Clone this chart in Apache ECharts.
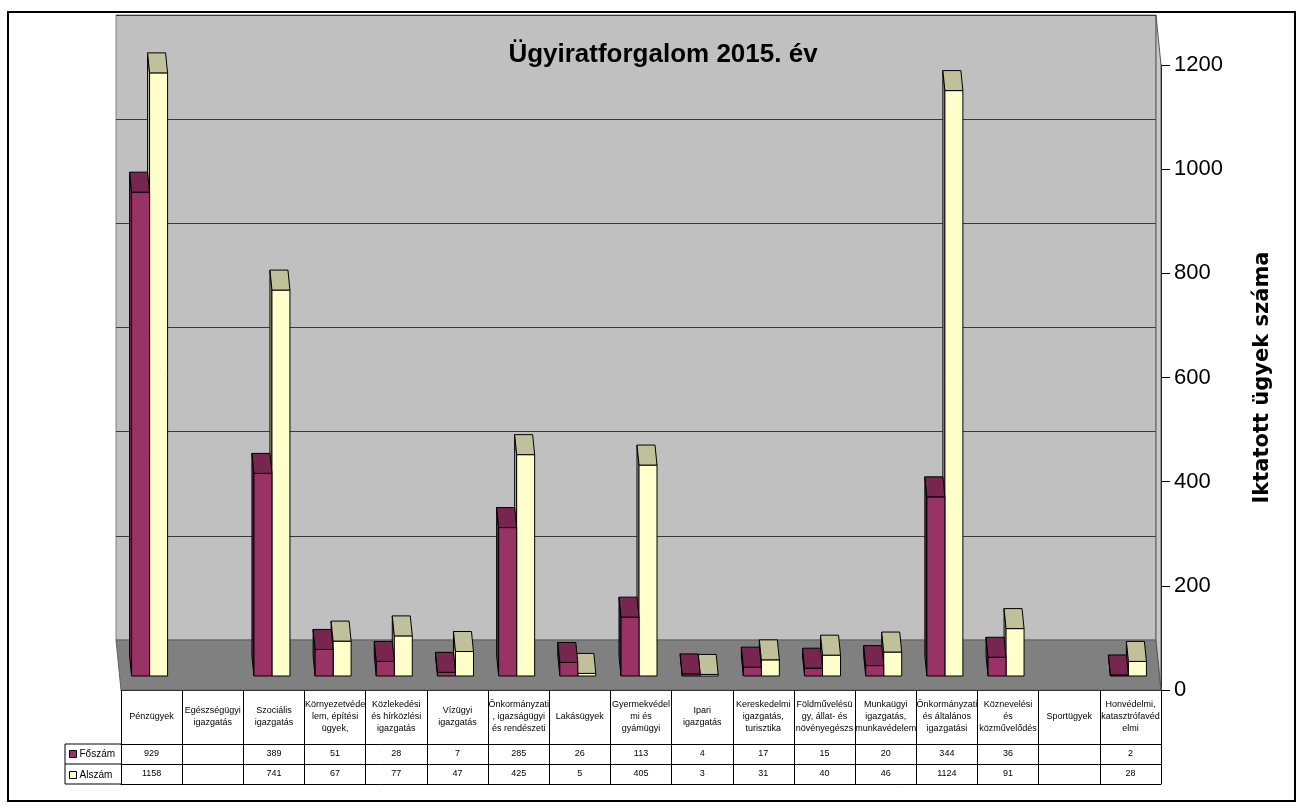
<!DOCTYPE html>
<html>
<head>
<meta charset="utf-8">
<script src="https://cdn.jsdelivr.net/npm/echarts@6/dist/echarts.min.js"></script>
<style>
  html, body { margin: 0; padding: 0; background: #fff; }
  #chart { width: 1303px; height: 809px; }
</style>
</head>
<body>
<div id="chart"></div>
<script>
const categories = [
  'Pénzügyek', 'Egészségügyi\nigazgatás', 'Szociális\nigazgatás', 'Környezetvéde\nlem, építési\nügyek,',
  'Közlekedési\nés hírközlési\nigazgatás', 'Vízügyi\nigazgatás', 'Önkormányzati\n, igazságügyi\nés rendészeti',
  'Lakásügyek', 'Gyermekvédel\nmi és\ngyámügyi', 'Ipari\nigazgatás', 'Kereskedelmi\nigazgatás,\nturisztika',
  'Földművelésü\ngy, állat- és\nnövényegészs', 'Munkaügyi\nigazgatás,\nmunkavédelem',
  'Önkormányzati\nés általános\nigazgatási', 'Köznevelési\nés\nközművelődés', 'Sportügyek',
  'Honvédelmi,\nkatasztrófavéd\nelmi'
];
const foszam = [929, null, 389, 51, 28, 7, 285, 26, 113, 4, 17, 15, 20, 344, 36, null, 2];
const alszam = [1158, null, 741, 67, 77, 47, 425, 5, 405, 3, 31, 40, 46, 1124, 91, null, 28];
const yTicks = { min: 0, max: 1200, interval: 200 };

const sans = "'Liberation Sans', Arial, sans-serif";
const chart = echarts.init(document.getElementById('chart'));

// 3D-ish column: front face, left side, top cap
const makeRender = (front, cap, left) => (params, api) => {
  const v = api.value(1);
  if (v == null || isNaN(v)) return;
  const base = api.coord([api.value(0), 0]);
  const top = api.coord([api.value(0), v]);
  const w = 18, dx = -2, dy = -20;
  const x0 = base[0] - 2 + (left ? -w : 0);
  const style = { stroke: '#000', lineWidth: 1 };
  return {
    type: 'group',
    children: [
      { type: 'polygon', shape: { points: [[x0, top[1]], [x0 + dx, top[1] + dy], [x0 + dx, base[1] + dy], [x0, base[1]]] },
        style: Object.assign({ fill: cap }, style) },
      { type: 'rect', shape: { x: x0, y: top[1], width: w, height: base[1] - top[1] },
        style: Object.assign({ fill: front }, style) },
      { type: 'polygon', shape: { points: [[x0, top[1]], [x0 + w, top[1]], [x0 + w + dx, top[1] + dy], [x0 + dx, top[1] + dy]] },
        style: Object.assign({ fill: cap }, style) }
    ]
  };
};

const tableAxis = (offset, tickLen, formatter, margin) => ({
  type: 'category', gridIndex: 2, position: 'bottom', offset: offset,
  data: categories,
  axisLine: { show: true, lineStyle: { color: '#000', width: 1 } },
  axisTick: { show: tickLen > 0, interval: 0, length: tickLen, lineStyle: { color: '#000' } },
  axisLabel: {
    show: !!formatter, interval: 0, formatter: formatter, margin: margin,
    verticalAlign: 'middle', color: '#000', fontSize: 9, lineHeight: 12, fontFamily: sans
  },
  splitLine: { show: false }
});

const option = {
  animation: false,
  title: {
    text: 'Ügyiratforgalom 2015. év',
    left: 658, textAlign: 'center', top: 37,
    textStyle: { fontSize: 26, fontWeight: 'bold', color: '#000', fontFamily: sans }
  },
  legend: {
    data: ['Főszám', 'Alszám'],
    orient: 'vertical', left: 69, top: 749, padding: 0,
    itemWidth: 7, itemHeight: 7, itemGap: 11,
    icon: 'rect',
    itemStyle: { borderColor: '#000', borderWidth: 1 },
    textStyle: { fontSize: 10, color: '#000', fontFamily: sans, padding: [0, 0, 0, -2] }
  },
  grid: [
    // back wall
    { left: 116, width: 1040, top: 15, height: 625, show: true, backgroundColor: '#c0c0c0', borderColor: '#808080', borderWidth: 1 },
    // bars
    { left: 121, width: 1040, top: 51, height: 625 },
    // front axis + data table
    { left: 121, width: 1040, top: 65, height: 625 }
  ],
  xAxis: [
    { type: 'category', gridIndex: 0, data: categories, show: false },
    { type: 'category', gridIndex: 1, data: categories, show: false },
    tableAxis(0, 54, v => v, 27),
    tableAxis(54, 20, (v, i) => foszam[i] == null ? '' : String(foszam[i]), 10),
    tableAxis(74, 20, (v, i) => alszam[i] == null ? '' : String(alszam[i]), 10),
    tableAxis(94, 0, null, 0)
  ],
  yAxis: [
    { type: 'value', gridIndex: 0, min: yTicks.min, max: yTicks.max, interval: yTicks.interval,
      axisLine: { show: false }, axisTick: { show: false }, axisLabel: { show: false },
      splitLine: { lineStyle: { color: '#3a3a3a', width: 1 } } },
    { type: 'value', gridIndex: 1, min: yTicks.min, max: yTicks.max, interval: yTicks.interval, show: false },
    { type: 'value', gridIndex: 2, position: 'right', min: yTicks.min, max: yTicks.max, interval: yTicks.interval,
      axisLine: { show: true, lineStyle: { color: '#000' } },
      axisTick: { show: true, length: 9, lineStyle: { color: '#000' } },
      axisLabel: { fontSize: 22, color: '#000', margin: 13, fontFamily: sans, formatter: v => String(v) },
      splitLine: { show: false },
      name: 'Iktatott ügyek száma', nameLocation: 'middle', nameRotate: 90, nameGap: 91,
      nameTextStyle: { fontSize: 21, fontWeight: 'bold', color: '#000', fontFamily: "'DejaVu Sans', sans-serif" } }
  ],
  graphic: [
    // frame
    { type: 'rect', z: 0, shape: { x: 8, y: 12, width: 1287, height: 789 }, style: { fill: 'none', stroke: '#000', lineWidth: 2 } },
    // floor
    { type: 'polygon', z: 1, shape: { points: [[116, 640], [1156, 640], [1161, 690], [121, 690]] }, style: { fill: '#808080', stroke: '#606060', lineWidth: 1 } },
    // right side wall
    { type: 'polygon', z: 1, shape: { points: [[1156, 15], [1161, 65], [1161, 690], [1156, 640]] }, style: { fill: '#c8c8c8', stroke: '#555', lineWidth: 1 } },
    // row header cells of the data table
    { type: 'line', shape: { x1: 65, y1: 744, x2: 121, y2: 744 }, style: { stroke: '#000', lineWidth: 1 } },
    { type: 'line', shape: { x1: 65, y1: 764, x2: 121, y2: 764 }, style: { stroke: '#000', lineWidth: 1 } },
    { type: 'line', shape: { x1: 65, y1: 784, x2: 121, y2: 784 }, style: { stroke: '#000', lineWidth: 1 } },
    { type: 'line', shape: { x1: 65, y1: 744, x2: 65, y2: 784 }, style: { stroke: '#000', lineWidth: 1 } }
  ],
  series: [
    {
      name: 'Alszám', type: 'custom', xAxisIndex: 1, yAxisIndex: 1, z: 3,
      itemStyle: { color: '#ffffcc' },
      encode: { x: 0, y: 1 },
      renderItem: makeRender('#ffffcc', '#c0c09a', false),
      data: alszam.map((v, i) => [i, v])
    },
    {
      name: 'Főszám', type: 'custom', xAxisIndex: 1, yAxisIndex: 1, z: 4,
      itemStyle: { color: '#993366' },
      encode: { x: 0, y: 1 },
      renderItem: makeRender('#993366', '#77264f', true),
      data: foszam.map((v, i) => [i, v])
    }
  ]
};

chart.setOption(option);
</script>
</body>
</html>
